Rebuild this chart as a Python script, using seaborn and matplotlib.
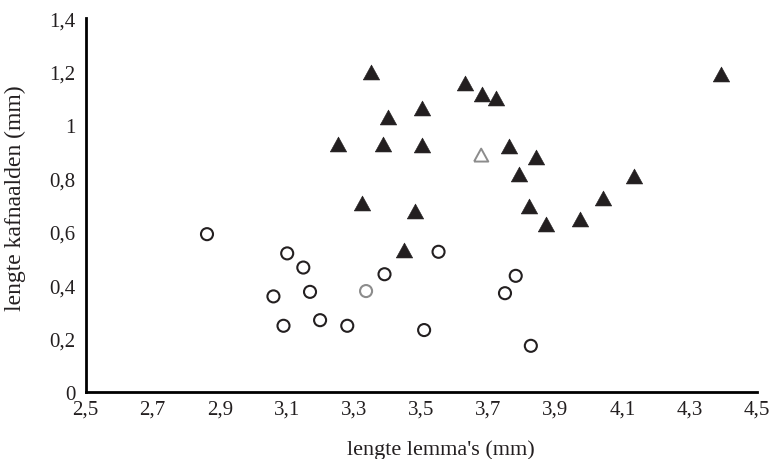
import numpy as np
import pandas as pd
import matplotlib
matplotlib.use("Agg")
import matplotlib.pyplot as plt
import seaborn as sns

# lengte lemma's (mm) en lengte kafnaalden (mm)
cirkel_x = [2.862, 3.101, 3.149, 3.060, 3.169, 3.090, 3.199, 3.280, 3.391,
            3.552, 3.509, 3.750, 3.782, 3.827]
cirkel_y = [0.592, 0.520, 0.467, 0.359, 0.376, 0.249, 0.270, 0.249, 0.442,
            0.526, 0.233, 0.371, 0.436, 0.174]
cirkel_grijs_x = [3.336]
cirkel_grijs_y = [0.379]

driehoek_x = [3.352, 3.252, 3.385, 3.400, 3.323, 3.503, 3.503, 3.630, 3.682,
              3.722, 3.762, 3.843, 3.792, 3.823, 3.872, 3.974, 4.042, 4.133,
              4.393, 3.481, 3.449]
driehoek_y = [1.200, 0.931, 0.931, 1.032, 0.710, 1.065, 0.924, 1.159, 1.115,
              1.100, 0.922, 0.880, 0.819, 0.699, 0.629, 0.648, 0.727, 0.809,
              1.191, 0.680, 0.532]
driehoek_grijs_x = [3.679]
driehoek_grijs_y = [0.888]

x_ticks = [2.5, 2.7, 2.9, 3.1, 3.3, 3.5, 3.7, 3.9, 4.1, 4.3, 4.5]
y_ticks = [0, 0.2, 0.4, 0.6, 0.8, 1.0, 1.2, 1.4]

sns.set_style("white")
plt.rcParams['font.family'] = ['Liberation Serif', 'DejaVu Serif']

fig = plt.figure(figsize=(7.76, 4.6), dpi=100)
ax = fig.add_axes([0.1102, 0.145, 0.8649, 0.813])

zwart = '#231f20'
grijs = '#8c8c8c'
# iets bredere driehoek dan de standaard '^' (gesloten pad)
driehoek = [(-1.1, -1.0), (1.1, -1.0), (0.0, 1.0), (-1.1, -1.0)]

sns.scatterplot(x=cirkel_x, y=cirkel_y, ax=ax, marker='o', s=75,
                facecolor='none', edgecolor=zwart, linewidth=1.5, zorder=3)
sns.scatterplot(x=cirkel_grijs_x, y=cirkel_grijs_y, ax=ax, marker='o', s=75,
                facecolor='none', edgecolor=grijs, linewidth=1.5, zorder=3)
sns.scatterplot(x=driehoek_x, y=driehoek_y, ax=ax, marker=driehoek, s=140,
                color=zwart, edgecolor=zwart, linewidth=0.4, zorder=3)
sns.scatterplot(x=driehoek_grijs_x, y=driehoek_grijs_y, ax=ax, marker=driehoek, s=105,
                facecolor='none', edgecolor=grijs, linewidth=1.4, zorder=3)

ax.set_xlim(2.5, 4.5)
ax.set_ylim(0, 1.4)
ax.set_xticks(x_ticks)
ax.set_yticks(y_ticks)
ax.set_xticklabels([f"{v:g}".replace('.', ',') for v in x_ticks])
ax.set_yticklabels([f"{v:g}".replace('.', ',') for v in y_ticks])

for kant in ['top', 'right']:
    ax.spines[kant].set_visible(False)
for kant in ['left', 'bottom']:
    ax.spines[kant].set_color('black')
    ax.spines[kant].set_linewidth(2.0)

ax.tick_params(axis='both', which='major', direction='out', length=3,
               width=1, color='black', labelsize=15, labelcolor=zwart)
ax.tick_params(axis='x', pad=2)
ax.tick_params(axis='y', pad=4)

ax.set_xlabel("lengte lemma's (mm)", fontsize=16, color=zwart)
ax.set_ylabel("lengte kafnaalden (mm)", fontsize=17, color=zwart)
ax.xaxis.set_label_coords(0.530, -0.125)
ax.yaxis.set_label_coords(-0.088, 0.522)

fig.savefig("out.png", dpi=100)
